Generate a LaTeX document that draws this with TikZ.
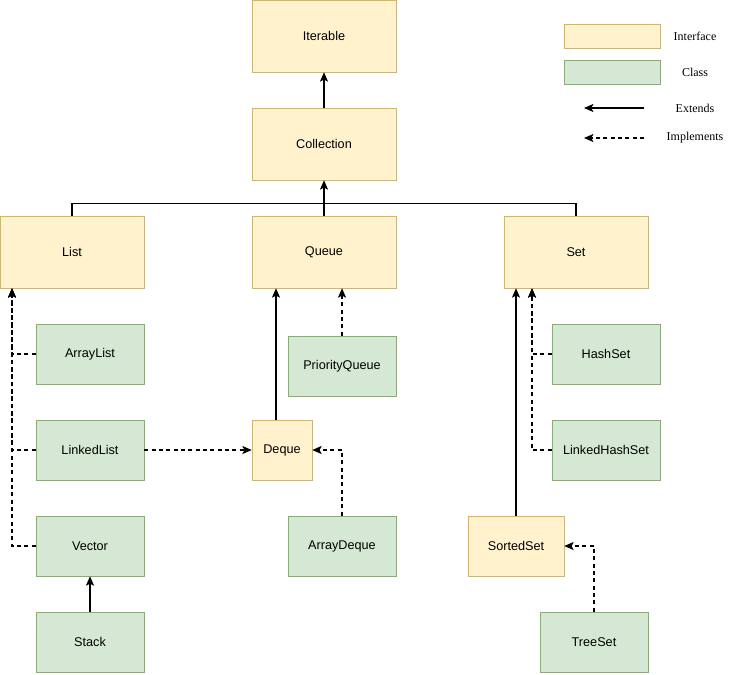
\documentclass[tikz,border=0pt]{standalone}
\usepackage{fontspec}
\setmainfont{Liberation Serif}
\newfontfamily\arialf{Liberation Sans}
\usetikzlibrary{arrows.meta}
\definecolor{ifill}{HTML}{FFF2CC}\definecolor{idraw}{HTML}{D6B656}
\definecolor{cfill}{HTML}{D5E8D4}\definecolor{cdraw}{HTML}{82B366}
\begin{document}
\begin{tikzpicture}[x=0.75pt,y=-0.75pt,
 iface/.style={draw=idraw,fill=ifill,minimum width=#1*0.75pt,inner sep=0pt,font=\arialf\fontsize{9.5}{11}\selectfont},
 iface/.default=144,
 cls/.style={draw=cdraw,fill=cfill,minimum width=108*0.75pt,minimum height=45pt,inner sep=0pt,font=\arialf\fontsize{9.5}{11}\selectfont},
 ext/.style={-{Stealth[length=7pt,width=6pt,inset=1.5pt]},line width=0.8pt},
 impl/.style={ext,dashed,dash pattern=on 3pt off 2.5pt},
 leg/.style={font=\fontsize{9}{11}\selectfont}]
\useasboundingbox (0,0) rectangle (734,674);
\node[iface,minimum height=54pt] (iter) at (324,36) {Iterable};
\node[iface,minimum height=54pt] (coll) at (324,144) {Collection};
\node[iface,minimum height=54pt] (list) at (72,252) {List};
\node[iface,minimum height=54pt] (queue) at (324,252) {Queue};
\node[iface,minimum height=54pt] (set) at (576,252) {Set};
\node[cls] (al) at (90,354) {ArrayList};
\node[cls] (ll) at (90,450) {LinkedList};
\node[cls] (vec) at (90,546) {Vector};
\node[cls] (stack) at (90,642) {Stack};
\node[cls] (pq) at (342,366) {PriorityQueue};
\node[iface=60,minimum height=45pt] (deque) at (282,450) {Deque};
\node[cls] (ad) at (342,546) {ArrayDeque};
\node[cls] (hs) at (606,354) {HashSet};
\node[cls] (lhs) at (606,450) {LinkedHashSet};
\node[iface=96,minimum height=45pt] (ss) at (516,546) {SortedSet};
\node[cls] (ts) at (594,642) {TreeSet};
% legend
\node[iface=96,minimum height=18pt] (li) at (612,36) {};
\node[cls,minimum width=72pt,minimum height=18pt] (lc) at (612,72) {};
\node[leg] (lit) at (695,36) {Interface};
\node[leg] (lct) at (695,72) {Class};
\coordinate (e1) at (644,108); \coordinate (e2) at (584,108);
\coordinate (d1) at (644,138); \coordinate (d2) at (584,138);
\draw[ext] (e1) -- (e2);
\draw[impl] (d1) -- (d2);
\node[leg] (let) at (695,108) {Extends};
\node[leg] (ldt) at (695,138) {Implements};
% edges
\draw[ext] (coll) -- (iter);
\draw[ext] (queue) -- (coll);
\draw[line width=0.8pt] (list.north) -- ++(0,-12) -| (set.north);
\draw[impl] (al.west) -| ([xshift=-60*0.75pt]list.south);
\draw[impl] (ll.west) -| ([xshift=-60*0.75pt]list.south);
\draw[impl] (vec.west) -| ([xshift=-60*0.75pt]list.south);
\draw[ext] (stack) -- (vec);
\draw[ext] (deque.north -| 276,0) -- (queue.south -| 276,0);
\draw[impl] (pq) -- (queue.south -| pq);
\draw[impl] (ll) -- (deque);
\draw[impl] (ad.north) |- (deque.east);
\draw[ext] (ss) -- (set.south -| ss);
\draw[impl] (hs.west) -| ([xshift=-44*0.75pt]set.south);
\draw[impl] (lhs.west) -| ([xshift=-44*0.75pt]set.south);
\draw[impl] (ts.north) |- (ss.east);
\end{tikzpicture}
\end{document}
